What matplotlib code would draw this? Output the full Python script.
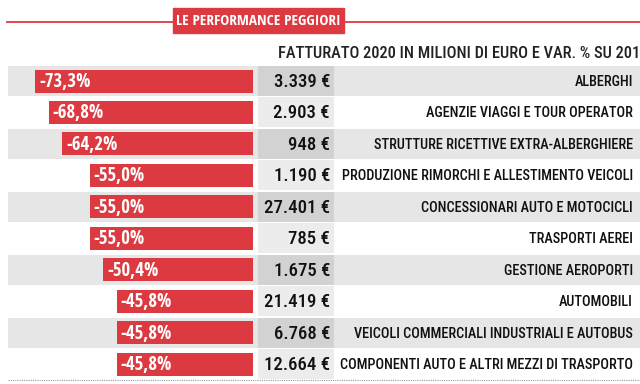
import matplotlib.pyplot as plt

# Data
categories = ["ALBERGHI", "AGENZIE VIAGGI E TOUR OPERATOR",
              "STRUTTURE RICETTIVE EXTRA-ALBERGHIERE",
              "PRODUZIONE RIMORCHI E ALLESTIMENTO VEICOLI",
              "CONCESSIONARI AUTO E MOTOCICLI", "TRASPORTI AEREI",
              "GESTIONE AEROPORTI", "AUTOMOBILI",
              "VEICOLI COMMERCIALI INDUSTRIALI E AUTOBUS",
              "COMPONENTI AUTO E ALTRI MEZZI DI TRASPORTO"]
variations = [-73.3, -68.8, -64.2, -55.0, -55.0, -55.0, -50.4, -45.8, -45.8, -45.8]
fatturato = ["3.339", "2.903", "948", "1.190", "27.401", "785", "1.675",
             "21.419", "6.768", "12.664"]

title = "LE PERFORMANCE PEGGIORI"
subtitle = "FATTURATO 2020 IN MILIONI DI EURO E VAR. % SU 2019"

plt.rcParams['font.family'] = ['Roboto Condensed', 'DejaVu Sans']
bold_fam = ['Open Sans Condensed', 'DejaVu Sans']

red = '#dc3a40'
band = '#e6e6e6'

fig = plt.figure(figsize=(6.4, 3.84), dpi=100)
ax = fig.add_axes([0, 0, 1, 1])
ax.set_xlim(0, 640)
ax.set_ylim(384, 0)
ax.axis('off')

rows = [81 + i * 31.45 for i in range(len(categories))]

# row bands and value cells
for i, y in enumerate(rows):
    if i % 2 == 0:
        ax.barh(y, 632, left=8, height=30, color=band, zorder=0)
        ax.barh(y, 76, left=258, height=30, color='#d2d2d2', zorder=1)
    else:
        ax.barh(y, 76, left=258, height=30, color='#ececec', zorder=1)
    ax.text(330, y + 1, fatturato[i] + " €", ha='right', va='center',
            fontsize=13.5, fontweight=500, color='#111111', zorder=3)
    ax.text(633, y + 1, categories[i], ha='right', va='center',
            fontsize=10.3, fontweight=500, color='#111111', zorder=3)

# title
ax.plot([7, 640], [22, 22], color=red, lw=1.3, zorder=1)
ax.add_patch(plt.Rectangle((173, 8), 171, 25, color=red, zorder=2))
ax.text(258.5, 21, title, ha='center', va='center', color='white',
        fontsize=11, fontweight='bold', family=bold_fam, zorder=3)
ax.text(278, 53, subtitle, ha='left', va='center', fontsize=11.8,
        fontweight=500, color='#222222', clip_on=True)
ax.plot([8, 640], [380, 380], color='#999999', lw=0.8, ls=(0, (1, 1)))

# bars
bax = fig.add_axes([0, 0, 253 / 640, 1])
bax.set_xlim(-253 / 2.97, 0)
bax.set_ylim(384, 0)
bax.axis('off')
bax.patch.set_alpha(0)
bax.barh(rows, variations, height=23, color=red)
for y, v in zip(rows, variations):
    lbl = f"{v:.1f}%".replace('.', ',')
    bax.text(v + 1.3, y + 1, lbl, ha='left', va='center', color='white',
             fontsize=13.5, fontweight='bold', family=bold_fam)

fig.savefig("out.png", dpi=100)
